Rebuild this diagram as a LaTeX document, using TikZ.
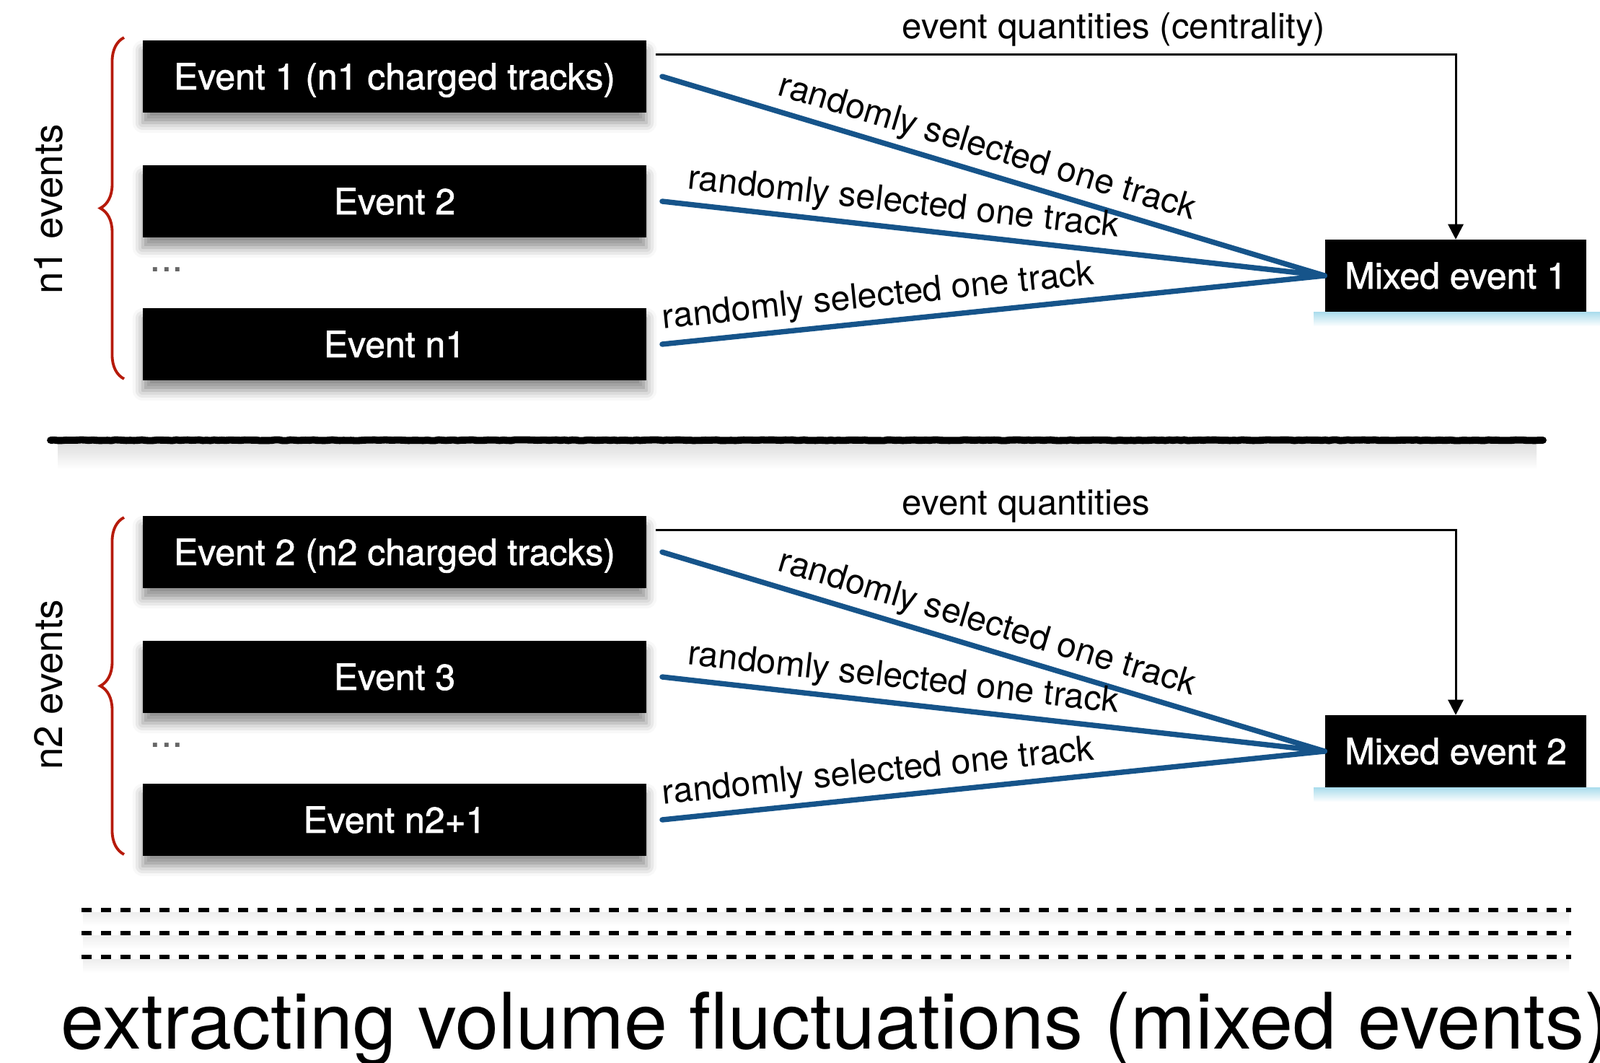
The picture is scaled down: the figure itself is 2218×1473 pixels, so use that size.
\documentclass[tikz,border=0pt]{standalone}
\usepackage{fontspec}
\setmainfont{TeX Gyre Heros}
\newfontfamily\medfont{TeX Gyre Heros}[AutoFakeBold=1.4]
\usetikzlibrary{arrows.meta,decorations.pathreplacing,decorations.pathmorphing,shadows.blur}
\definecolor{trackblue}{RGB}{22,84,138}
\definecolor{bracered}{RGB}{182,26,10}
\definecolor{glow}{RGB}{170,220,236}

\begin{document}
\begin{tikzpicture}[
  x=0.01cm, y=-0.01cm,
  blk/.style={rectangle, fill=black, text=white, inner sep=0pt,
              text height=10.2pt, text depth=0pt,
              font=\medfont\bfseries\fontsize{14.2}{17}\selectfont},
  evbox/.style={blk, minimum width=6.98cm, minimum height=1cm,
                blur shadow={shadow xshift=0pt, shadow yshift=-4pt,
                             shadow blur radius=4pt, shadow opacity=45}},
  mixbox/.style={blk, minimum width=3.62cm, minimum height=0.99cm},
  halo/.style={top color=glow, bottom color=white, draw=none},
  track/.style={draw=trackblue, line width=2.1pt, line cap=round},
  lbl/.style={sloped, above, inner sep=2pt, font=\fontsize{13.7}{16}\selectfont},
  quant/.style={draw, line width=0.85pt, -{Triangle[length=6pt, width=6pt]}},
  qtext/.style={anchor=base west, inner sep=0pt, font=\fontsize{14}{17}\selectfont},
  grp/.style={draw=bracered, line width=1.1pt, decorate,
              decoration={brace, amplitude=0.33cm}},
  side/.style={rotate=90, inner sep=0pt, font=\fontsize{15.6}{18}\selectfont},
  more/.style={text=black!60, inner sep=0pt, font=\fontsize{16}{18}\selectfont},
  sep/.style={line width=2.8pt, line cap=round, decorate,
              decoration={random steps, segment length=1.5pt, amplitude=0.15pt}},
  dotrow/.style={line width=1.7pt, dash pattern=on 4pt off 3.7pt}
]
\useasboundingbox (0,0) rectangle (2218,1473);
\clip (0,0) rectangle (2218,1473);

% first group
\node[evbox]  (ev1)  at (547,106)  {Event 1 (n1 charged tracks)};
\node[evbox]  (ev2)  at (547,279)  {Event 2};
\node[more]   (dot1) at (231,374)  {...};
\node[evbox]  (evn1) at (547,477)  {Event n1};
\node[mixbox] (mix1) at (2018,382) {Mixed event 1};
\shade[halo] ([xshift=-0.15cm]mix1.south west) rectangle ([xshift=0.2cm, yshift=-0.2cm]mix1.south east);
\node[side]   (cnt1) at (67,290)   {n1 events};
\draw[grp] (172,525) -- (172,52);
\node[qtext]  (q1)   at (1250,54)  {event quantities (centrality)};
\draw[quant] ([xshift=0.12cm, yshift=-0.2cm]ev1.north east) -| (mix1.north);
\draw[track] ([xshift=0.21cm]ev1.east)  -- node[lbl, pos=.48]{randomly selected one track} (mix1.west);
\draw[track] ([xshift=0.21cm]ev2.east)  -- node[lbl, pos=.36]{randomly selected one track} (mix1.west);
\draw[track] ([xshift=0.21cm]evn1.east) -- node[lbl, pos=.33]{randomly selected one track} (mix1.west);

% separator
\shade[top color=black!14, bottom color=white] (80,612) rectangle (2130,650);
\draw[sep] (70,610) -- (2139,610);

% second group
\node[evbox]  (ev2b) at (547,765)  {Event 2 (n2 charged tracks)};
\node[evbox]  (ev3)  at (547,938)  {Event 3};
\node[more]   (dot2) at (231,1033) {...};
\node[evbox]  (evn2) at (547,1136) {Event n2+1};
\node[mixbox] (mix2) at (2018,1041) {Mixed event 2};
\shade[halo] ([xshift=-0.15cm]mix2.south west) rectangle ([xshift=0.2cm, yshift=-0.2cm]mix2.south east);
\node[side]   (cnt2) at (67,949)   {n2 events};
\draw[grp] (172,1184) -- (172,717);
\node[qtext]  (q2)   at (1250,713) {event quantities};
\draw[quant] ([xshift=0.12cm, yshift=-0.2cm]ev2b.north east) -| (mix2.north);
\draw[track] ([xshift=0.21cm]ev2b.east) -- node[lbl, pos=.48]{randomly selected one track} (mix2.west);
\draw[track] ([xshift=0.21cm]ev3.east)  -- node[lbl, pos=.36]{randomly selected one track} (mix2.west);
\draw[track] ([xshift=0.21cm]evn2.east) -- node[lbl, pos=.33]{randomly selected one track} (mix2.west);

% further mixed events
\foreach \y in {1261,1293,1326} {
  \shade[top color=black!7, bottom color=white] (115,\y+3) rectangle (2175,\y+22);
  \draw[dotrow] (113,\y) -- (2178,\y);
}
\node[anchor=base west, inner sep=0pt, font=\fontsize{30.7}{36}\selectfont]
  (title) at (84,1453) {extracting volume fluctuations (mixed events)};
\end{tikzpicture}
\end{document}
